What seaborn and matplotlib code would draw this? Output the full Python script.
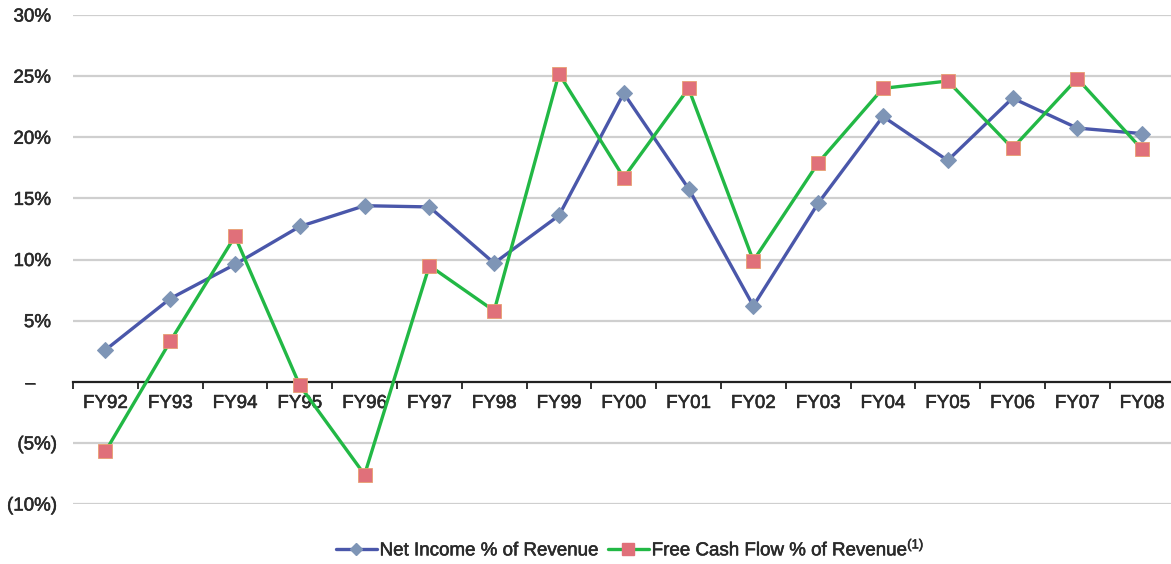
import matplotlib
matplotlib.use("Agg")
import matplotlib.pyplot as plt
import matplotlib.transforms as mtransforms
import matplotlib.patheffects as pe
import seaborn as sns
import pandas as pd
from matplotlib.lines import Line2D
from matplotlib.ticker import FixedLocator

years = ["FY92", "FY93", "FY94", "FY95", "FY96", "FY97", "FY98", "FY99", "FY00",
         "FY01", "FY02", "FY03", "FY04", "FY05", "FY06", "FY07", "FY08"]
net_income = [2.6, 6.8, 9.6, 12.7, 14.4, 14.3, 9.7, 13.6, 23.6,
              15.8, 6.2, 14.6, 21.7, 18.1, 23.2, 20.75, 20.3]
free_cash_flow = [-5.7, 3.3, 11.9, -0.3, -7.6, 9.5, 5.8, 25.2, 16.7,
                  24.0, 9.9, 17.9, 24.0, 24.6, 19.1, 24.8, 19.0]
y_ticks = [-10, -5, 0, 5, 10, 15, 20, 25, 30]
y_labels = ["(10%)", "(5%)", "\u2013", "5%", "10%", "15%", "20%", "25%", "30%"]
ni_label = "Net Income % of Revenue"
fcf_label = "Free Cash Flow % of Revenue$^{(1)}$"

sns.set_theme(style="white")
plt.rcParams["font.family"] = ["Liberation Sans", "DejaVu Sans"]
plt.rcParams["mathtext.fontset"] = "custom"
plt.rcParams["mathtext.rm"] = "Liberation Sans"
plt.rcParams["mathtext.it"] = "Liberation Sans"

line_blue = "#4A57AA"
marker_blue = "#7E95B6"
line_green = "#22B845"
marker_red = "#E0707A"
text_color = "#2a2a2a"
fs = 13.5
heavy = [pe.withStroke(linewidth=0.4, foreground=text_color)]

df = pd.DataFrame({"year": years, "ni": net_income, "fcf": free_cash_flow})
df["pos"] = range(len(years))

fig = plt.figure(figsize=(11.71, 5.64), dpi=100)
ax = fig.add_axes([73 / 1171, 1 - 504 / 564, 1 - 73 / 1171 + 0.003, (504 - 15) / 564])

for yv in y_ticks:
    if yv != 0:
        ax.axhline(yv, color="#cfcfcf", lw=1.6, zorder=0)

sns.lineplot(data=df, x="pos", y="ni", ax=ax, color=line_blue, lw=2.4,
             marker="D", markersize=8.5, markerfacecolor=marker_blue,
             markeredgecolor=marker_blue, zorder=3)
sns.lineplot(data=df, x="pos", y="fcf", ax=ax, color=line_green, lw=2.4,
             marker="s", markersize=10, markerfacecolor=marker_red,
             markeredgecolor="#E8A070", markeredgewidth=0.6, zorder=4)

ax.set_xlim(-0.5, len(years) - 0.5)
ax.set_ylim(-10, 30)
ax.set_xlabel("")
ax.set_ylabel("")

for s in ["left", "right", "top"]:
    ax.spines[s].set_visible(False)
ax.spines["bottom"].set_position(("data", 0))
ax.spines["bottom"].set_color("#222222")
ax.spines["bottom"].set_linewidth(1.6)
ax.spines["bottom"].set_zorder(2)

ax.set_xticks(range(len(years)))
ax.set_xticklabels(years, fontsize=fs, color=text_color)
ax.xaxis.set_minor_locator(FixedLocator([i - 0.5 for i in range(len(years) + 1)]))
ax.tick_params(axis="x", which="major", length=0, pad=9.5)
ax.tick_params(axis="x", which="minor", length=5, width=1.3, color="#222222",
               direction="out", bottom=True)

ax.set_yticks(y_ticks)
ax.set_yticklabels(y_labels, fontsize=fs, color=text_color)
ax.tick_params(axis="y", length=0, pad=11.5)

for lab in ax.get_xticklabels():
    lab.set_path_effects(heavy)

# Excel-style alignment: positive numbers leave room for a closing parenthesis
for lab, txt in zip(ax.get_yticklabels(), y_labels):
    lab.set_path_effects(heavy)
    if txt.startswith("("):
        continue
    shift = 6 if txt != "\u2013" else 22
    lab.set_transform(lab.get_transform() +
                      mtransforms.ScaledTranslation(-shift / 100, 0, fig.dpi_scale_trans))

handles = [
    Line2D([], [], color=line_blue, lw=2.4, marker="D", markersize=6.5,
           markerfacecolor=marker_blue, markeredgecolor=marker_blue),
    Line2D([], [], color=line_green, lw=2.4, marker="s", markersize=8,
           markerfacecolor=marker_red, markeredgecolor=marker_red),
]
leg = fig.legend(handles, [ni_label, fcf_label], loc="center", bbox_to_anchor=(0.538, 0.026),
                 ncol=2, frameon=False, fontsize=fs, handlelength=2.2, handletextpad=0.15,
                 columnspacing=0.5, labelcolor=text_color)
for t in leg.get_texts():
    t.set_path_effects(heavy)

fig.savefig("out.png", dpi=100)
